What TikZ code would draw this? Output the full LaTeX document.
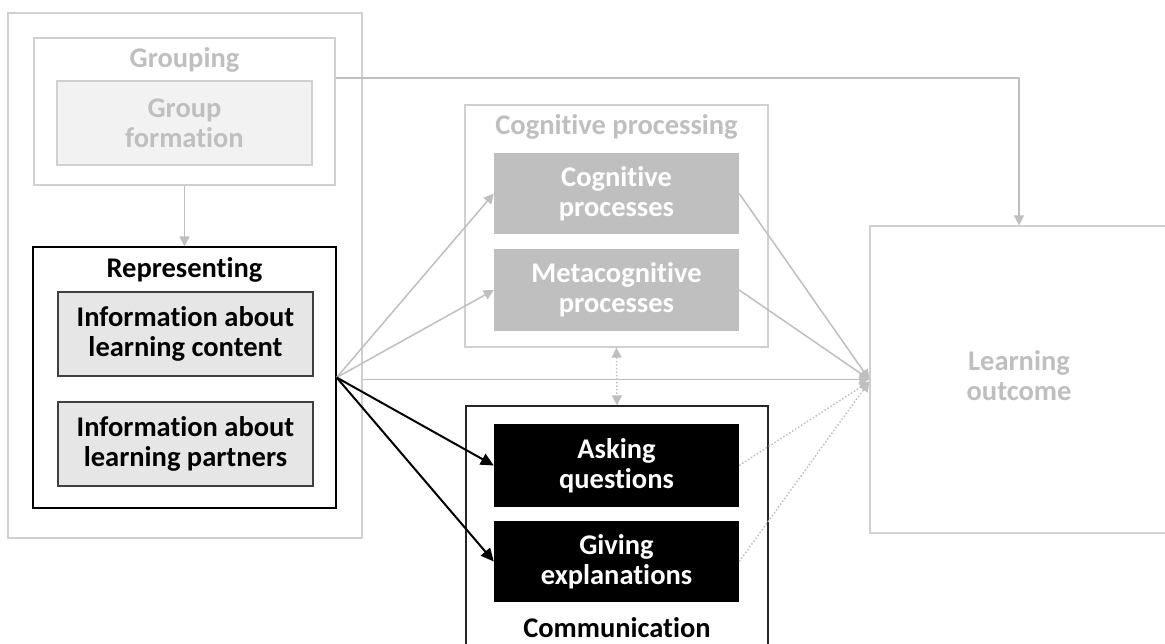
\documentclass[tikz,border=0pt]{standalone}
\usepackage{fontspec}
\setmainfont{Carlito}[Ligatures=NoCommon]
\usetikzlibrary{arrows.meta}
\definecolor{lgray}{HTML}{BFBFBF}
\definecolor{bgray}{HTML}{D0D0D0}
\definecolor{ffill}{HTML}{F2F2F2}
\definecolor{infofill}{HTML}{E7E6E6}
\definecolor{dkgray}{HTML}{404040}
\tikzset{
  lbl/.style={font=\fontsize{28.5}{30}\selectfont\bfseries, align=center, inner sep=0pt},
  frame/.style={draw=bgray, line width=1.3pt, fill=white, inner sep=0pt},
  formbox/.style={draw=bgray, line width=1.2pt, fill=ffill, text=lgray, lbl},
  infobox/.style={draw=dkgray, line width=1.2pt, fill=infofill, text=black, lbl},
  cogbox/.style={draw=none, fill=lgray, text=white, lbl},
  blackbox/.style={draw=none, fill=black, text=white, lbl},
  gline/.style={draw=lgray, line width=1.5pt},
  garrow/.style={gline, -{Triangle[length=10pt,width=10pt]}},
  gdot/.style={draw=lgray, line width=1.5pt, dotted, -{Triangle[length=10pt,width=10pt]}},
  barrow/.style={draw=black, line width=2pt, -{Triangle[length=13pt,width=12pt]}},
}
\begin{document}
\begin{tikzpicture}[x=1pt,y=-1pt]
\useasboundingbox (0,0) rectangle (1165,643);
% left column
\node[frame, minimum width=354, minimum height=525] (outer) at (185,275.5) {};
\node[frame, minimum width=301, minimum height=147] (grouping) at (184.5,111.5) {};
\node[lbl, text=lgray] (groupingT) at (184.5,60) {Grouping};
\node[formbox, minimum width=255, minimum height=84] (form) at (184.5,123) {Group\\formation};
\node[draw=black, line width=1.3pt, fill=white, minimum width=303, minimum height=261, inner sep=0pt] (rep) at (184.5,377.5) {};
\node[lbl] (repT) at (184.5,270) {Representing};
\node[infobox, minimum width=255, minimum height=84] (info1) at (185.5,334) {Information about\\learning content};
\node[infobox, minimum width=255, minimum height=84] (info2) at (185.5,444) {Information about\\learning partners};
% cognitive processing
\node[frame, minimum width=303, minimum height=242] (cog) at (616.5,226) {};
\node[lbl, text=lgray] (cogT) at (616.5,127) {Cognitive processing};
\node[cogbox, minimum width=245, minimum height=81] (cogp) at (616.5,193.5) {Cognitive\\processes};
\node[cogbox, minimum width=245, minimum height=82] (meta) at (616.5,290) {Metacognitive\\processes};
% communication
\node[draw=black!85, line width=1.3pt, fill=white, minimum width=302, minimum height=241, inner sep=0pt] (comm) at (617,526.5) {};
\node[lbl] (commT) at (617,627.5) {Communication};
\node[blackbox, minimum width=245, minimum height=83] (ask) at (616.5,465.5) {Asking\\questions};
\node[blackbox, minimum width=245, minimum height=81] (give) at (616.5,561.5) {Giving\\explanations};
% learning outcome
\node[frame, minimum width=298, minimum height=307] (learn) at (1019,379.5) {};
\node[lbl, text=lgray] (learnT) at (1019,376) {Learning\\outcome};
% connectors
\draw[garrow] (grouping.south) -- (rep.north);
\draw[garrow] ([yshift=33.5pt]grouping.east) -| (learn.north);
\draw[garrow] (rep.east) -- (cogp.west);
\draw[garrow] (rep.east) -- (meta.west);
\draw[garrow] (outer.east |- learn.west) -- (learn.west);
\draw[garrow] (cogp.east) -- (learn.west);
\draw[garrow] (meta.east) -- (learn.west);
\draw[gdot] (ask.east) -- ([yshift=-2pt]learn.west);
\draw[gdot] (give.east) -- ([yshift=-2pt]learn.west);
\draw[draw=lgray, line width=1.5pt, dotted, {Triangle[length=10pt,width=10pt]}-{Triangle[length=10pt,width=10pt]}] (cog.south) -- (comm.north);
\draw[barrow] (rep.east) -- (ask.west);
\draw[barrow] (rep.east) -- (give.west);
\end{tikzpicture}
\end{document}
